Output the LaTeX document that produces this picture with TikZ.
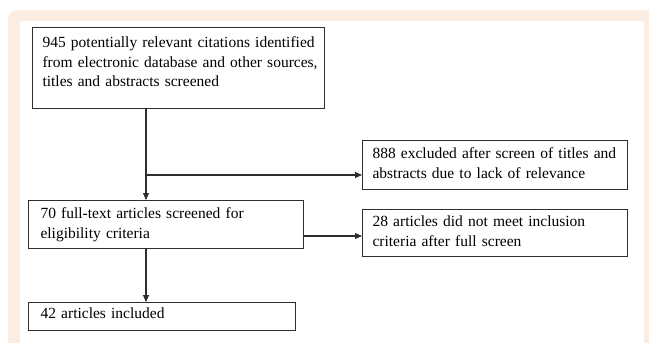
\documentclass[tikz,border=0pt]{standalone}
\usepackage{fontspec}
\setmainfont{Liberation Serif}
\usetikzlibrary{arrows.meta}
\definecolor{peach}{HTML}{FCEDE3}
\definecolor{boxline}{HTML}{2E2E2E}
\newcommand{\boxfont}{\fontsize{15.5}{19.5}\selectfont}
\begin{document}
\begin{tikzpicture}[x=1pt,y=-1pt,
  box/.style={draw=boxline, line width=1.1pt, align=left, inner xsep=10pt, inner ysep=0pt,
              anchor=north west, font=\boxfont},
  conn/.style={draw=boxline, line width=1.1pt},
  arr/.style={conn, -{Triangle[length=7pt,width=6pt]}}]
\useasboundingbox (0,0) rectangle (649,343);
% background frame
\fill[peach, rounded corners=10pt] (8,10) rectangle (670,370);
\fill[white] (20,21) rectangle (644,370);
% boxes
\node[box, text width=272pt] (b1) at (32,27)
  {\rule{0pt}{20pt}\mbox{945 potentially relevant citations identified}\\
   \mbox{from electronic database and other sources,}\\
   \mbox{titles and abstracts screened}\rule[-22pt]{0pt}{22pt}};
\node[box, text width=245pt] (b3) at (362,140)
  {\rule{0pt}{18pt}\mbox{888 excluded after screen of titles and}\\
   \mbox{abstracts due to lack of relevance}\rule[-11pt]{0pt}{11pt}};
\node[box, inner xsep=12pt, text width=251pt] (b2) at (28,200)
  {\rule{0pt}{18pt}\mbox{70 full-text articles screened for}\\
   \mbox{eligibility criteria}\rule[-10.5pt]{0pt}{10.5pt}};
\node[box, text width=245pt] (b4) at (362,209)
  {\rule{0pt}{17pt}\mbox{28 articles did not meet inclusion}\\
   \mbox{criteria after full screen}\rule[-10pt]{0pt}{10pt}};
\node[box, inner xsep=12pt, text width=243pt] (b5) at (28,302)
  {\rule{0pt}{16pt}\mbox{42 articles included}\rule[-12pt]{0pt}{12pt}};
% connectors
\coordinate (sp) at (146,175);
\coordinate (h2) at (0,236);
\draw[arr] (b1.south -| sp) -- (b2.north -| sp);
\draw[arr] (sp) -- (sp -| b3.west);
\draw[arr] (b2.east |- h2) -- (h2 -| b4.west);
\draw[arr] (b2.south -| sp) -- (b5.north -| sp);
\end{tikzpicture}
\end{document}
